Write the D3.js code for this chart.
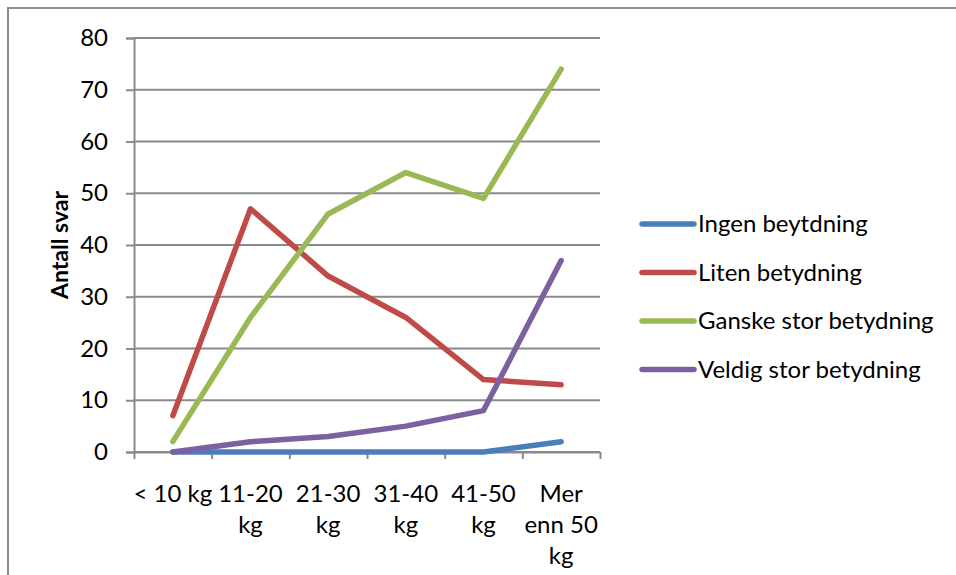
<!DOCTYPE html>
<html>
<head>
<meta charset="utf-8">
<script src="https://cdn.jsdelivr.net/npm/d3@7"></script>
<style>
  body { margin: 0; background: #fff; }
  svg { display: block; font-family: Lato, "Liberation Sans", sans-serif; }
</style>
</head>
<body>
<svg id="chart" width="956" height="575"></svg>
<script>
// categories (x axis), each label split into lines as in the original
const categories = ['< 10 kg', '11-20 kg', '21-30 kg', '31-40 kg', '41-50 kg', 'Mer enn 50 kg'];
const categoryLines = [['< 10 kg'], ['11-20', 'kg'], ['21-30', 'kg'], ['31-40', 'kg'], ['41-50', 'kg'], ['Mer', 'enn 50', 'kg']];

const ingen = [0, 0, 0, 0, 0, 2];
const liten = [7, 47, 34, 26, 14, 13];
const ganske = [2, 26, 46, 54, 49, 74];
const veldig = [0, 2, 3, 5, 8, 37];

const seriesNames = ['Ingen beytdning', 'Liten betydning', 'Ganske stor betydning', 'Veldig stor betydning'];
const seriesColors = ['#4a7ebb', '#be4b48', '#98b954', '#7d60a0'];
const yTicks = [0, 10, 20, 30, 40, 50, 60, 70, 80];

const series = [ingen, liten, ganske, veldig].map((values, i) => ({
  name: seriesNames[i],
  color: seriesColors[i],
  values,
}));

const svg = d3.select('#chart');
const plotLeft = 134, plotRight = 600, plotTop = 38, plotBottom = 452;
const fontSize = 24;

// chart frame
svg.append('rect')
  .attr('x', 8).attr('y', 8)
  .attr('width', 980).attr('height', 620)
  .attr('fill', 'none')
  .attr('stroke', '#8c8c8c')
  .attr('stroke-width', 2);

const x = d3.scaleBand().domain(categories).range([plotLeft, plotRight]);
const xEdge = d3.scaleLinear().domain([0, categories.length]).range([plotLeft, plotRight]);
const y = d3.scaleLinear().domain([0, 80]).range([plotBottom, plotTop]);

// gridlines
svg.append('g')
  .selectAll('line')
  .data(yTicks)
  .join('line')
  .attr('x1', plotLeft).attr('x2', plotRight)
  .attr('y1', d => y(d)).attr('y2', d => y(d))
  .attr('stroke', '#8a8a8a')
  .attr('stroke-width', 2);

// y axis
const yAxis = svg.append('g')
  .attr('transform', `translate(${plotLeft},0)`)
  .call(d3.axisLeft(y).tickValues(yTicks).tickSize(8).tickPadding(18));
yAxis.select('.domain').attr('stroke', '#8a8a8a').attr('stroke-width', 2);
yAxis.selectAll('.tick line').attr('stroke', '#8a8a8a').attr('stroke-width', 2);
yAxis.selectAll('.tick text')
  .attr('font-size', fontSize)
  .attr('fill', '#000')
  .attr('font-family', 'Lato, sans-serif');

// x axis (ticks between categories)
const xAxis = svg.append('g')
  .attr('transform', `translate(0,${plotBottom})`)
  .call(d3.axisBottom(xEdge).tickValues(d3.range(categories.length + 1)).tickFormat('').tickSize(7).tickSizeOuter(0));
xAxis.select('.domain').attr('stroke', '#8a8a8a').attr('stroke-width', 2);
xAxis.selectAll('.tick line').attr('stroke', '#8a8a8a').attr('stroke-width', 2);

// x labels
const xLabels = svg.append('g')
  .selectAll('text')
  .data(categories)
  .join('text')
  .attr('x', d => x(d) + x.bandwidth() / 2)
  .attr('y', 502)
  .attr('text-anchor', 'middle')
  .attr('font-size', fontSize)
  .attr('fill', '#000');
xLabels.selectAll('tspan')
  .data((d, i) => categoryLines[i])
  .join('tspan')
  .attr('x', function () { return this.parentNode.getAttribute('x'); })
  .attr('dy', (d, i) => i === 0 ? 0 : 31)
  .text(d => d);

// axis title
svg.append('text')
  .attr('transform', `translate(68,${(plotTop + plotBottom) / 2}) rotate(-90)`)
  .attr('text-anchor', 'middle')
  .attr('font-size', 23)
  .attr('font-weight', 'bold')
  .attr('fill', '#000')
  .text('Antall svar');

// lines
const line = d3.line()
  .x((d, i) => x(categories[i]) + x.bandwidth() / 2)
  .y(d => y(d));

svg.append('g')
  .selectAll('path')
  .data(series)
  .join('path')
  .attr('d', d => line(d.values))
  .attr('fill', 'none')
  .attr('stroke', d => d.color)
  .attr('stroke-width', 5.5)
  .attr('stroke-linecap', 'round')
  .attr('stroke-linejoin', 'round');

// legend
const legend = svg.append('g')
  .selectAll('g')
  .data(series)
  .join('g')
  .attr('transform', (d, i) => `translate(642,${224 + i * 48.5})`);
legend.append('line')
  .attr('x1', 0).attr('x2', 52)
  .attr('stroke', d => d.color)
  .attr('stroke-width', 5.5)
  .attr('stroke-linecap', 'round');
legend.append('text')
  .attr('x', 56)
  .attr('dy', '0.35em')
  .attr('font-size', fontSize)
  .attr('fill', '#000')
  .text(d => d.name);
</script>
</body>
</html>
